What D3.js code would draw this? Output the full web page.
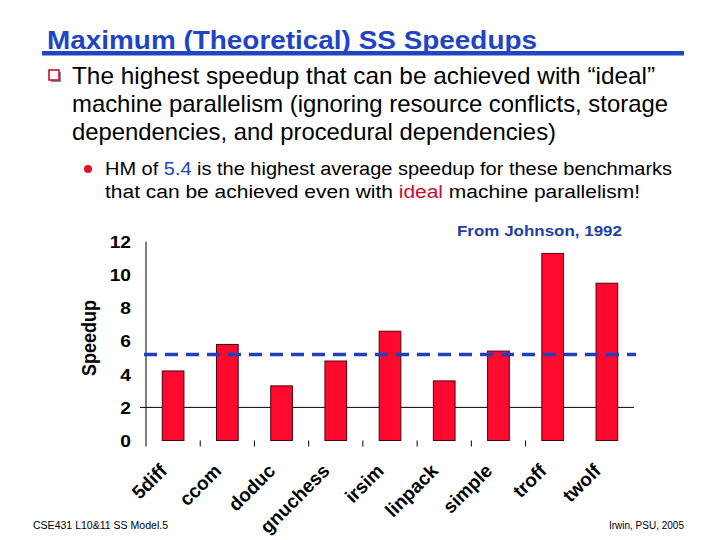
<!DOCTYPE html>
<html>
<head>
<meta charset="utf-8">
<script src="https://cdn.jsdelivr.net/npm/d3@7"></script>
<style>
  html, body { margin: 0; padding: 0; background: #fff; }
  svg { display: block; font-family: "Liberation Sans", Arial, sans-serif; }
</style>
</head>
<body>
<svg id="chart" width="720" height="540"></svg>
<script>
// ---------- data ----------
const categories = ["5diff", "ccom", "doduc", "gnuchess", "irsim", "linpack", "simple", "troff", "twolf"];
const speedups = [4.2, 5.8, 3.3, 4.8, 6.6, 3.6, 5.4, 11.3, 9.5];
const harmonicMean = [5.2];
const yTicks = [0, 2, 4, 6, 8, 10, 12];
const gridValues = [2];

const titleText = "Maximum (Theoretical) SS Speedups";
const bulletLines = [
  "The highest speedup that can be achieved with \u201Cideal\u201D",
  "machine parallelism (ignoring resource conflicts, storage",
  "dependencies, and procedural dependencies)"
];
const sourceText = "From Johnson, 1992";
const footerLeft = "CSE431  L10&11 SS Model.5";
const footerRight = "Irwin, PSU, 2005";

// ---------- setup ----------
const svg = d3.select("#chart");
const BLUE = "#1f44c4";
const RED = "#ff0a2e";

// Title
svg.append("text")
  .attr("x", 47).attr("y", 49)
  .attr("font-size", 25).attr("font-weight", "bold")
  .attr("fill", BLUE)
  .attr("textLength", 490).attr("lengthAdjust", "spacingAndGlyphs")
  .text(titleText);
svg.append("rect")
  .attr("x", 42).attr("y", 51).attr("width", 642).attr("height", 4.5)
  .attr("fill", BLUE);

// Main bullet (hollow square)
svg.append("rect").attr("x", 51).attr("y", 72).attr("width", 10).attr("height", 10)
  .attr("fill", "#888");
svg.append("rect").attr("x", 49).attr("y", 70).attr("width", 10).attr("height", 10)
  .attr("fill", "#fff").attr("stroke", "#c8102e").attr("stroke-width", 1.6);

const bulletLens = [583, 596, 484];
bulletLines.forEach((t, i) => {
  svg.append("text")
    .attr("x", 72).attr("y", 84 + i * 28)
    .attr("font-size", 24).attr("fill", "#000")
    .attr("textLength", bulletLens[i]).attr("lengthAdjust", "spacingAndGlyphs")
    .text(t);
});

// Sub bullet
svg.append("circle").attr("cx", 88).attr("cy", 169).attr("r", 4).attr("fill", "#e0102a");
const s1 = svg.append("text").attr("x", 105).attr("y", 175).attr("font-size", 18)
  .attr("textLength", 567).attr("lengthAdjust", "spacingAndGlyphs");
s1.append("tspan").text("HM of ");
s1.append("tspan").attr("fill", "#1f44b8").text("5.4");
s1.append("tspan").text(" is the highest average speedup for these benchmarks");
const s2 = svg.append("text").attr("x", 105).attr("y", 198).attr("font-size", 18)
  .attr("textLength", 535).attr("lengthAdjust", "spacingAndGlyphs");
s2.append("tspan").text("that can be achieved even with ");
s2.append("tspan").attr("fill", "#c8102e").text("ideal");
s2.append("tspan").text(" machine parallelism!");

// Source note
svg.append("text")
  .attr("x", 457).attr("y", 236)
  .attr("font-size", 15).attr("font-weight", "bold").attr("fill", "#1f3fa8")
  .attr("textLength", 165).attr("lengthAdjust", "spacingAndGlyphs")
  .text(sourceText);

// ---------- chart ----------
const plotLeft = 146, plotRight = 634;
const x = d3.scaleBand().domain(categories).range([plotLeft, plotRight])
  .paddingInner(0.6).paddingOuter(0.3);
const step = x.step();
const y = d3.scaleLinear().domain([0, 12]).range([440.5, 241.8]);

// grid line(s)
svg.append("g").selectAll("line").data(gridValues).join("line")
  .attr("x1", plotLeft - 6).attr("x2", plotRight)
  .attr("y1", d => y(d)).attr("y2", d => y(d))
  .attr("stroke", "#000").attr("stroke-width", 1);

// y axis
const yAxis = d3.axisLeft(y).tickValues(yTicks).tickSize(0).tickPadding(0);
const yg = svg.append("g").attr("transform", `translate(${plotLeft},0)`).call(yAxis);
yg.select(".domain").remove();
yg.selectAll(".tick text").remove();
yg.selectAll(".tick").append("text")
  .attr("transform", "translate(-15,0) scale(1.2,1)")
  .attr("text-anchor", "end").attr("dy", "0.36em")
  .attr("font-size", 16).attr("font-weight", "bold").attr("fill", "#000")
  .attr("font-family", "Liberation Sans, Arial, sans-serif")
  .text(d => d);
svg.append("line")
  .attr("x1", plotLeft).attr("x2", plotLeft)
  .attr("y1", y(12)).attr("y2", y(0) + 6)
  .attr("stroke", "#000").attr("stroke-width", 1);

// y label
svg.append("text")
  .attr("transform", "translate(96,338) scale(1.15,1) rotate(-90)")
  .attr("text-anchor", "middle")
  .attr("font-size", 18).attr("font-weight", "bold")
  .text("Speedup");

// bars
svg.append("g").selectAll("rect").data(speedups).join("rect")
  .attr("x", (d, i) => x(categories[i]))
  .attr("width", x.bandwidth())
  .attr("y", d => y(d))
  .attr("height", d => y(0) - y(d))
  .attr("fill", RED).attr("stroke", "#500010").attr("stroke-width", 1);

// x ticks between categories
const tickCats = categories.slice(1, 8);
svg.append("g").selectAll("line").data(tickCats).join("line")
  .attr("x1", d => x(d) - x.paddingOuter() * step)
  .attr("x2", d => x(d) - x.paddingOuter() * step)
  .attr("y1", y(0)).attr("y2", y(0) + 6)
  .attr("stroke", "#000").attr("stroke-width", 1);

// x labels
svg.append("g").selectAll("text").data(categories).join("text")
  .attr("transform", d => `translate(${x(d) + x.bandwidth() / 2 - 5},472) rotate(-45)`)
  .attr("text-anchor", "end")
  .attr("font-size", 19).attr("font-weight", "bold")
  .text(d => d);

// harmonic mean dashed line
svg.append("g").selectAll("line").data(harmonicMean).join("line")
  .attr("x1", plotLeft - 2).attr("x2", plotRight + 2)
  .attr("y1", d => y(d)).attr("y2", d => y(d))
  .attr("stroke", "#2040c0").attr("stroke-width", 3.5)
  .attr("stroke-dasharray", "13,8");

// footers
svg.append("text").attr("x", 33).attr("y", 529).attr("font-size", 10)
  .attr("textLength", 135).attr("lengthAdjust", "spacingAndGlyphs")
  .text(footerLeft);
svg.append("text").attr("x", 684).attr("y", 529).attr("font-size", 10)
  .attr("text-anchor", "end")
  .text(footerRight);
</script>
</body>
</html>
